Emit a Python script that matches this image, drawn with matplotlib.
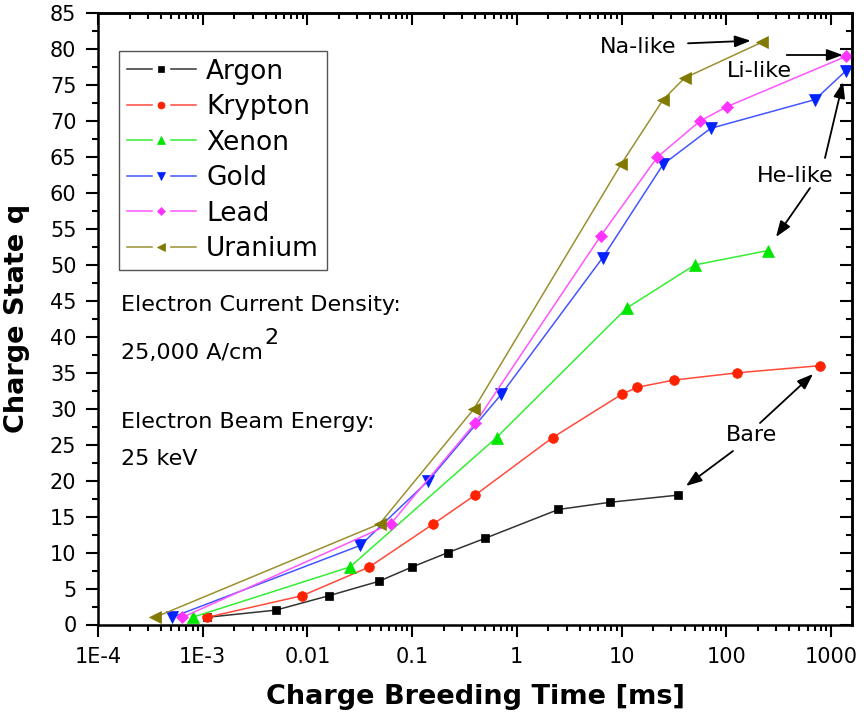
import numpy as np
import matplotlib
matplotlib.use("Agg")
import matplotlib.pyplot as plt
from matplotlib.lines import Line2D
from matplotlib.legend_handler import HandlerBase
from matplotlib.ticker import LogLocator, MultipleLocator, NullFormatter, FixedLocator

# ---------------- data ----------------
argon_t = [1.1e-3, 5.0e-3, 0.016, 0.048, 0.10, 0.22, 0.50, 2.5, 7.8, 35]
argon_q = [1, 2, 4, 6, 8, 10, 12, 16, 17, 18]
krypton_t = [1.1e-3, 8.9e-3, 0.039, 0.16, 0.40, 2.2, 10, 14.2, 32, 127, 790]
krypton_q = [1, 4, 8, 14, 18, 26, 32, 33, 34, 35, 36]
xenon_t = [8.0e-4, 0.0255, 0.64, 11.2, 50, 250]
xenon_q = [1, 8, 26, 44, 50, 52]
gold_t = [5.1e-4, 0.032, 0.143, 0.71, 6.6, 25, 71, 705, 1390]
gold_q = [1, 11, 20, 32, 51, 64, 69, 73, 77]
lead_t = [6.4e-4, 0.0625, 0.40, 6.3, 22, 56, 101, 1390]
lead_q = [1, 14, 28, 54, 65, 70, 72, 79]
uranium_t = [3.5e-4, 0.049, 0.39, 9.9, 25, 40, 221]
uranium_q = [1, 14, 30, 64, 73, 76, 81]

series_names = ["Argon", "Krypton", "Xenon", "Gold", "Lead", "Uranium"]
xtick_vals = [1e-4, 1e-3, 1e-2, 1e-1, 1, 10, 100, 1000]
xtick_labels = ["1E-4", "1E-3", "0.01", "0.1", "1", "10", "100", "1000"]

# ---------------- styles ----------------
plt.rcParams["font.family"] = ["DejaVu Sans"]
styles = [
    dict(marker="s", ms=6.0, color="#000000", lc="#333333"),
    dict(marker="o", ms=7.0, color="#ff2200", lc="#ff4a3a"),
    dict(marker="^", ms=8.0, color="#00e600", lc="#33ee33"),
    dict(marker="v", ms=8.0, color="#0022ff", lc="#4455ff"),
    dict(marker="D", ms=6.0, color="#ff33ff", lc="#ff55ff"),
    dict(marker="<", ms=8.0, color="#807a00", lc="#9a9030"),
]
data = [(argon_t, argon_q), (krypton_t, krypton_q), (xenon_t, xenon_q),
        (gold_t, gold_q), (lead_t, lead_q), (uranium_t, uranium_q)]

fig = plt.figure(figsize=(8.64, 7.2), dpi=100)
fig.subplots_adjust(left=98/864, right=852/864, bottom=1-624.5/720, top=1-13.3/720)
ax = fig.add_subplot(111)

handles = []
for name, (t, q), st in zip(series_names, data, styles):
    h, = ax.plot(t, q, color=st["lc"], lw=1.1, marker=st["marker"], ms=st["ms"],
                 markerfacecolor=st["color"], markeredgecolor=st["color"],
                 markeredgewidth=0.5, label=name)
    handles.append(h)

ax.set_xscale("log")
ax.set_xlim(1e-4, 1590)
ax.set_ylim(0, 85)

ax.set_xticks(xtick_vals, xtick_labels)
ax.xaxis.set_minor_locator(LogLocator(base=10, subs=np.arange(2, 10), numticks=30))
ax.xaxis.set_minor_formatter(NullFormatter())
ax.set_yticks(np.arange(0, 86, 5))
ax.yaxis.set_minor_locator(MultipleLocator(2.5))

ax.tick_params(which="both", direction="out", top=False, right=False, width=1.5)
ax.tick_params(which="major", length=8.5, labelsize=15)
ax.tick_params(which="minor", length=4.5)
ax.tick_params(axis="x", which="major", pad=8)
ax.tick_params(axis="y", which="major", pad=7)
for sp in ax.spines.values():
    sp.set_linewidth(1.8)

secx = ax.secondary_xaxis("top")
secx.xaxis.set_major_locator(FixedLocator(xtick_vals))
secx.xaxis.set_minor_locator(LogLocator(base=10, subs=np.arange(2, 10), numticks=30))
secx.xaxis.set_major_formatter(NullFormatter())
secx.xaxis.set_minor_formatter(NullFormatter())
secx.tick_params(which="both", direction="in", width=1.5, labeltop=False)
secx.tick_params(which="major", length=8.5)
secx.tick_params(which="minor", length=4.5)
secx.spines["top"].set_linewidth(1.8)

secy = ax.secondary_yaxis("right")
secy.yaxis.set_major_locator(MultipleLocator(5))
secy.yaxis.set_minor_locator(MultipleLocator(2.5))
secy.yaxis.set_major_formatter(NullFormatter())
secy.tick_params(which="both", direction="in", width=1.5, labelright=False)
secy.tick_params(which="major", length=8.5)
secy.tick_params(which="minor", length=4.5)
secy.spines["right"].set_linewidth(1.8)

ax.set_xlabel("Charge Breeding Time [ms]", fontsize=19.5, fontweight="bold", labelpad=12)
ax.set_ylabel("Charge State q", fontsize=19.5, fontweight="bold", labelpad=14)


# ---------------- legend with gapped line ----------------
class GapLineHandler(HandlerBase):
    def create_artists(self, legend, orig_handle, xdescent, ydescent, width,
                       height, fontsize, trans):
        y = (height - ydescent) / 2.0
        x0 = -xdescent
        x1 = width - xdescent
        kw = dict(color=orig_handle.get_color(), lw=orig_handle.get_linewidth())
        l1 = Line2D([x0, x0 + 0.36 * width], [y, y], **kw)
        l2 = Line2D([x1 - 0.36 * width, x1], [y, y], **kw)
        m = Line2D([x0 + width / 2.0], [y], linestyle="none",
                   marker=orig_handle.get_marker(),
                   markersize=orig_handle.get_markersize() * 0.72,
                   markerfacecolor=orig_handle.get_markerfacecolor(),
                   markeredgecolor=orig_handle.get_markeredgecolor(),
                   markeredgewidth=0.5)
        for a in (l1, l2, m):
            a.set_transform(trans)
        return [l1, l2, m]


def af(px, py):
    return ((px - 98.0) / 754.0, (624.5 - py) / 611.2)


leg = ax.legend(handles=handles, handler_map={Line2D: GapLineHandler()},
                loc="upper left", bbox_to_anchor=af(119, 50.7), borderaxespad=0,
                fontsize=19, fancybox=False, edgecolor="#555555", framealpha=1,
                handlelength=2.6, handletextpad=0.4, labelspacing=0.36,
                borderpad=0.3)
leg.get_frame().set_linewidth(1.0)

# ---------------- text annotations ----------------
tfs = 16
ax.text(*af(120.7, 310.7), "Electron Current Density:", fontsize=tfs,
        transform=ax.transAxes, va="baseline", ha="left")
t_cd = ax.text(*af(120.7, 359.3), "25,000 A/cm", fontsize=tfs,
               transform=ax.transAxes, va="baseline", ha="left")
ax.annotate("2", xy=(1, 0), xycoords=t_cd, xytext=(1.5, 13.8),
            textcoords="offset points", fontsize=tfs, va="baseline", ha="left")
ax.text(*af(120.7, 428.3), "Electron Beam Energy:", fontsize=tfs,
        transform=ax.transAxes, va="baseline", ha="left")
ax.text(*af(120.7, 465.0), "25 keV", fontsize=tfs,
        transform=ax.transAxes, va="baseline", ha="left")

labels_pos = [("Na-like", 600, 53.3), ("Li-like", 726.7, 77.3),
              ("He-like", 756.7, 181.7), ("Bare", 725.7, 441)]
for txt, px, py in labels_pos:
    ax.text(*af(px, py), txt, fontsize=tfs, transform=ax.transAxes,
            va="baseline", ha="left")

arrows = [((688, 43.3), (750.7, 40.7)),
          ((786.7, 55), (842.7, 55)),
          ((825, 158), (843, 82)),
          ((810, 188), (776, 237)),
          ((760, 423), (813, 374)),
          ((733, 451), (686, 486))]
for start, end in arrows:
    ax.annotate("", xy=af(*end), xycoords="axes fraction",
                xytext=af(*start), textcoords="axes fraction",
                arrowprops=dict(arrowstyle="-|>,head_length=0.6,head_width=0.22",
                                color="black", lw=1.3, mutation_scale=16,
                                shrinkA=0, shrinkB=0))

fig.savefig("out.png", dpi=100)
